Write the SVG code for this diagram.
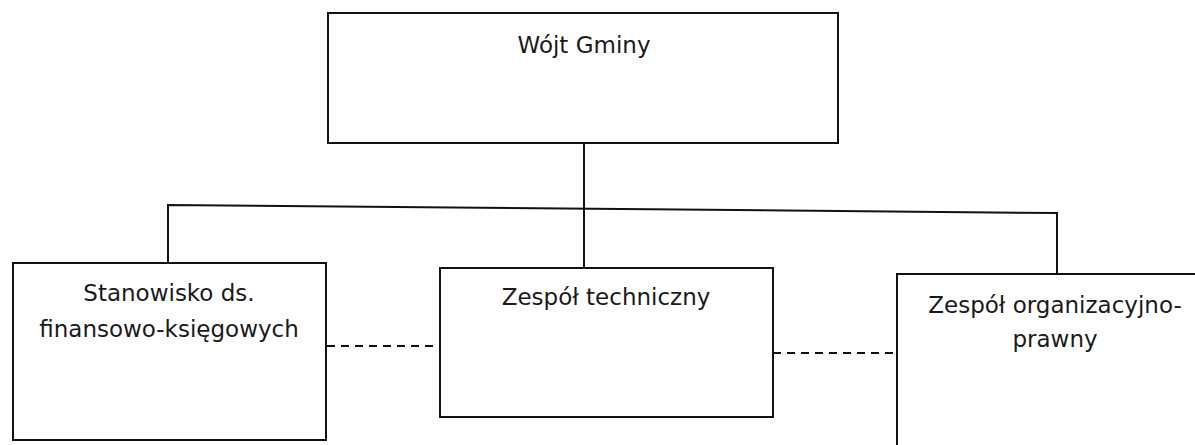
<svg xmlns="http://www.w3.org/2000/svg" width="1195" height="445" viewBox="0 0 1195 445">
  <style>
    .box { fill: #ffffff; stroke: #111111; stroke-width: 2; }
    .link { fill: none; stroke: #111111; stroke-width: 2; }
    .dash { fill: none; stroke: #111111; stroke-width: 2; stroke-dasharray: 8 6; }
    .label { font-family: "DejaVu Sans", Verdana, sans-serif; font-size: 23px; fill: #1a1a1a; text-anchor: middle; }
  </style>
  <rect width="1195" height="445" fill="#ffffff"/>

  <g id="connectors">
    <line class="link" x1="584" y1="143" x2="584" y2="207"/>
    <polyline class="link" points="168,262 168,205 1057,213 1057,274"/>
    <line class="link" x1="584" y1="207" x2="584" y2="268"/>
    <line class="dash" x1="327" y1="346" x2="440" y2="346"/>
    <line class="dash" x1="773" y1="353" x2="897" y2="353"/>
  </g>

  <g id="wojt">
    <rect class="box" x="328" y="13" width="510" height="130"/>
    <text class="label" x="584" y="53">Wójt Gminy</text>
  </g>

  <g id="finanse">
    <rect class="box" x="13" y="263" width="313" height="177"/>
    <text class="label" x="169" y="301">Stanowisko ds.</text>
    <text class="label" x="169" y="337">finansowo-księgowych</text>
  </g>

  <g id="techniczny">
    <rect class="box" x="440" y="268" width="333" height="149"/>
    <text class="label" x="606" y="305">Zespół techniczny</text>
  </g>

  <g id="organizacyjny">
    <rect class="box" x="897" y="274" width="320" height="200"/>
    <text class="label" x="1055" y="313">Zespół organizacyjno-</text>
    <text class="label" x="1055" y="347">prawny</text>
  </g>
</svg>
